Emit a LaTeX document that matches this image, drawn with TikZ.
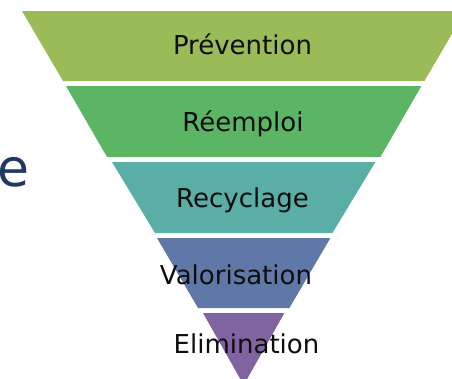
\documentclass[tikz,border=0pt]{standalone}
\usepackage{fontspec}
\setmainfont{DejaVu Sans}
\definecolor{bandA}{RGB}{155,187,89}
\definecolor{bandB}{RGB}{92,180,101}
\definecolor{bandC}{RGB}{91,174,165}
\definecolor{bandD}{RGB}{95,120,168}
\definecolor{bandE}{RGB}{128,100,162}
\definecolor{navy}{RGB}{31,56,100}
\tikzset{
  band/.style={draw=none},
  lbl/.style={anchor=base, inner sep=0pt, text=black!95, font=\fontsize{26}{30}\selectfont}
}
\begin{document}
\begin{tikzpicture}[x=1pt,y=-1pt]
\useasboundingbox (0,0) rectangle (452,378);
\clip (0,0) rectangle (452,378);
\fill[white] (0,0) rectangle (452,378);
% bands (left x, right = 487.4 - left)
\fill[band,bandA] (22,11) -- (465.4,11) -- (424.4,81) -- (63,81) -- cycle;
\fill[band,bandB] (66,86) -- (421.4,86) -- (380.4,157) -- (107,157) -- cycle;
\fill[band,bandC] (112,162) -- (375.4,162) -- (332.4,233) -- (155,233) -- cycle;
\fill[band,bandD] (157,238) -- (330.4,238) -- (289.4,308) -- (198,308) -- cycle;
\fill[band,bandE] (203,313) -- (284.4,313) -- (243.7,385) -- cycle;
% labels
\node[lbl] (prev) at (242.5,54) {Prévention};
\node[lbl] (reem) at (243,131) {Réemploi};
\node[lbl] (recy) at (242.5,207) {Recyclage};
\node[lbl] (valo) at (236,284) {Valorisation};
\node[lbl] (elim) at (246.5,353) {Elimination};
% partial title letter
\node[anchor=base west, inner sep=0pt, text=navy, font=\fontsize{52}{60}\selectfont] (ttl) at (-3,186) {e};
\end{tikzpicture}
\end{document}
